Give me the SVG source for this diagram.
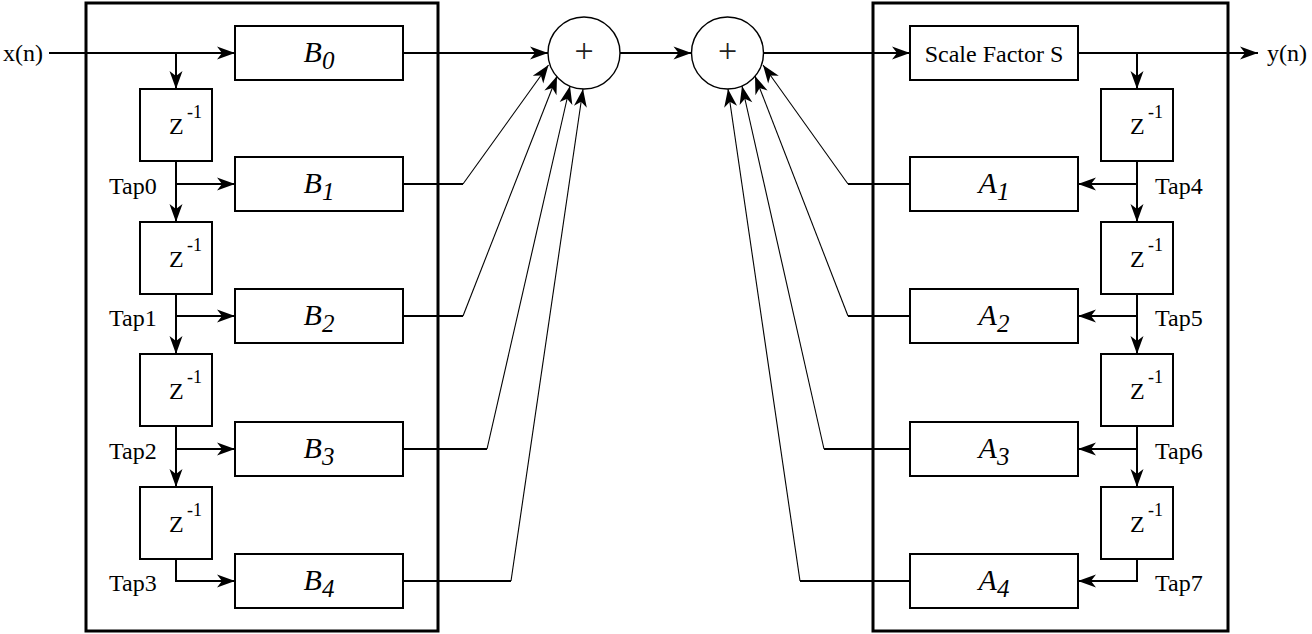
<svg xmlns="http://www.w3.org/2000/svg" width="1312" height="634" viewBox="0 0 1312 634">
<defs>
<marker id="ah" markerUnits="userSpaceOnUse" markerWidth="20" markerHeight="16" viewBox="-19 -8 20 16" refX="0" refY="0" orient="auto">
<path d="M0,0 L-18,-6.5 L-13,0 L-18,6.5 Z" fill="#000"/>
</marker>
</defs>
<style>
.frame{fill:none;stroke:#000;stroke-width:3}
.box{fill:#fff;stroke:#000;stroke-width:2}
.sum{fill:#fff;stroke:#000;stroke-width:1.4}
.w{fill:none;stroke:#000;stroke-width:2}
.t{fill:none;stroke:#000;stroke-width:1.1}
.a{marker-end:url(#ah)}
text{font-family:"Liberation Serif","Times New Roman",serif;fill:#000}
.lab{font-size:24px}
.coef{font-size:30px;font-style:italic}
.sub{font-size:25px;font-style:italic}
.z{font-size:24px}
.sup{font-size:18px}
.plus{font-size:34px;fill:#222}
</style>
<g id="frame-left"><rect class="frame" x="86" y="3" width="352" height="628"/></g>
<g id="frame-right"><rect class="frame" x="873" y="3" width="355" height="628"/></g>

<g id="connectors">
<line class="w a" x1="49" y1="53" x2="235" y2="53"/>
<line class="w a" x1="176" y1="53" x2="176" y2="89"/>
<line class="w a" x1="176" y1="161" x2="176" y2="222"/>
<line class="w a" x1="176" y1="184" x2="235" y2="184"/>
<line class="w a" x1="176" y1="294" x2="176" y2="354"/>
<line class="w a" x1="176" y1="316" x2="235" y2="316"/>
<line class="w a" x1="176" y1="426" x2="176" y2="487"/>
<line class="w a" x1="176" y1="449" x2="235" y2="449"/>
<polyline class="w a" points="176,559 176,581 235,581"/>
<line class="w a" x1="403" y1="53" x2="548" y2="53"/>
<line class="w" x1="403" y1="184" x2="463" y2="184"/>
<line class="t a" x1="463" y1="184" x2="548.5" y2="65"/>
<line class="w" x1="403" y1="316" x2="463" y2="316"/>
<line class="t a" x1="463" y1="316" x2="557" y2="76"/>
<line class="w" x1="403" y1="449" x2="487" y2="449"/>
<line class="t a" x1="487" y1="449" x2="570" y2="86"/>
<line class="w" x1="403" y1="581" x2="511" y2="581"/>
<line class="t a" x1="511" y1="581" x2="583" y2="89"/>
<line class="w a" x1="620" y1="53" x2="691.5" y2="53"/>
<line class="w a" x1="763.5" y1="53" x2="910" y2="53"/>
<line class="w a" x1="1078" y1="53" x2="1258" y2="53"/>
<line class="w a" x1="1137" y1="53" x2="1137" y2="89"/>
<line class="w a" x1="1137" y1="161" x2="1137" y2="222"/>
<line class="w a" x1="1137" y1="184" x2="1078" y2="184"/>
<line class="w a" x1="1137" y1="294" x2="1137" y2="354"/>
<line class="w a" x1="1137" y1="316" x2="1078" y2="316"/>
<line class="w a" x1="1137" y1="426" x2="1137" y2="487"/>
<line class="w a" x1="1137" y1="449" x2="1078" y2="449"/>
<polyline class="w a" points="1137,559 1137,581 1078,581"/>
<line class="w" x1="910" y1="184" x2="848" y2="184"/>
<line class="t a" x1="848" y1="184" x2="763" y2="65"/>
<line class="w" x1="910" y1="316" x2="848" y2="316"/>
<line class="t a" x1="848" y1="316" x2="755" y2="76"/>
<line class="w" x1="910" y1="449" x2="824" y2="449"/>
<line class="t a" x1="824" y1="449" x2="742" y2="86"/>
<line class="w" x1="910" y1="581" x2="800" y2="581"/>
<line class="t a" x1="800" y1="581" x2="728" y2="89"/>
</g>

<g id="input-label"><text class="lab" x="3" y="61">x(n)</text></g>
<g id="output-label"><text class="lab" x="1267" y="61">y(n)</text></g>

<g id="B0"><rect class="box" x="235" y="26" width="168" height="54"/><text x="319" y="62" text-anchor="middle"><tspan class="coef">B</tspan><tspan class="sub" dy="7">0</tspan></text></g>
<g id="B1"><rect class="box" x="235" y="157" width="168" height="54"/><text x="319" y="193" text-anchor="middle"><tspan class="coef">B</tspan><tspan class="sub" dy="7">1</tspan></text></g>
<g id="B2"><rect class="box" x="235" y="289" width="168" height="54"/><text x="319" y="325" text-anchor="middle"><tspan class="coef">B</tspan><tspan class="sub" dy="7">2</tspan></text></g>
<g id="B3"><rect class="box" x="235" y="422" width="168" height="54"/><text x="319" y="458" text-anchor="middle"><tspan class="coef">B</tspan><tspan class="sub" dy="7">3</tspan></text></g>
<g id="B4"><rect class="box" x="235" y="554" width="168" height="54"/><text x="319" y="590" text-anchor="middle"><tspan class="coef">B</tspan><tspan class="sub" dy="7">4</tspan></text></g>

<g id="ZL1"><rect class="box" x="140" y="89" width="72" height="72"/><text class="z" x="169" y="134">Z</text><text class="sup" x="187" y="118">-1</text></g>
<g id="ZL2"><rect class="box" x="140" y="222" width="72" height="72"/><text class="z" x="169" y="267">Z</text><text class="sup" x="187" y="251">-1</text></g>
<g id="ZL3"><rect class="box" x="140" y="354" width="72" height="72"/><text class="z" x="169" y="399">Z</text><text class="sup" x="187" y="383">-1</text></g>
<g id="ZL4"><rect class="box" x="140" y="487" width="72" height="72"/><text class="z" x="169" y="532">Z</text><text class="sup" x="187" y="516">-1</text></g>

<g id="tap0"><text class="lab" x="109" y="194">Tap0</text></g>
<g id="tap1"><text class="lab" x="109" y="326">Tap1</text></g>
<g id="tap2"><text class="lab" x="109" y="459">Tap2</text></g>
<g id="tap3"><text class="lab" x="109" y="591">Tap3</text></g>

<g id="adder1"><circle class="sum" cx="584" cy="53" r="36"/><text class="plus" x="584" y="62" text-anchor="middle">+</text></g>
<g id="adder2"><circle class="sum" cx="727.5" cy="53" r="36"/><text class="plus" x="727.5" y="62" text-anchor="middle">+</text></g>

<g id="scale"><rect class="box" x="910" y="26" width="168" height="54"/><text class="lab" x="994" y="62" text-anchor="middle">Scale Factor S</text></g>

<g id="A1"><rect class="box" x="910" y="157" width="168" height="54"/><text x="994" y="193" text-anchor="middle"><tspan class="coef">A</tspan><tspan class="sub" dy="7">1</tspan></text></g>
<g id="A2"><rect class="box" x="910" y="289" width="168" height="54"/><text x="994" y="325" text-anchor="middle"><tspan class="coef">A</tspan><tspan class="sub" dy="7">2</tspan></text></g>
<g id="A3"><rect class="box" x="910" y="422" width="168" height="54"/><text x="994" y="458" text-anchor="middle"><tspan class="coef">A</tspan><tspan class="sub" dy="7">3</tspan></text></g>
<g id="A4"><rect class="box" x="910" y="554" width="168" height="54"/><text x="994" y="590" text-anchor="middle"><tspan class="coef">A</tspan><tspan class="sub" dy="7">4</tspan></text></g>

<g id="ZR1"><rect class="box" x="1101" y="89" width="72" height="72"/><text class="z" x="1130" y="134">Z</text><text class="sup" x="1148" y="118">-1</text></g>
<g id="ZR2"><rect class="box" x="1101" y="222" width="72" height="72"/><text class="z" x="1130" y="267">Z</text><text class="sup" x="1148" y="251">-1</text></g>
<g id="ZR3"><rect class="box" x="1101" y="354" width="72" height="72"/><text class="z" x="1130" y="399">Z</text><text class="sup" x="1148" y="383">-1</text></g>
<g id="ZR4"><rect class="box" x="1101" y="487" width="72" height="72"/><text class="z" x="1130" y="532">Z</text><text class="sup" x="1148" y="516">-1</text></g>

<g id="tap4"><text class="lab" x="1155" y="194">Tap4</text></g>
<g id="tap5"><text class="lab" x="1155" y="326">Tap5</text></g>
<g id="tap6"><text class="lab" x="1155" y="459">Tap6</text></g>
<g id="tap7"><text class="lab" x="1155" y="591">Tap7</text></g>
</svg>
